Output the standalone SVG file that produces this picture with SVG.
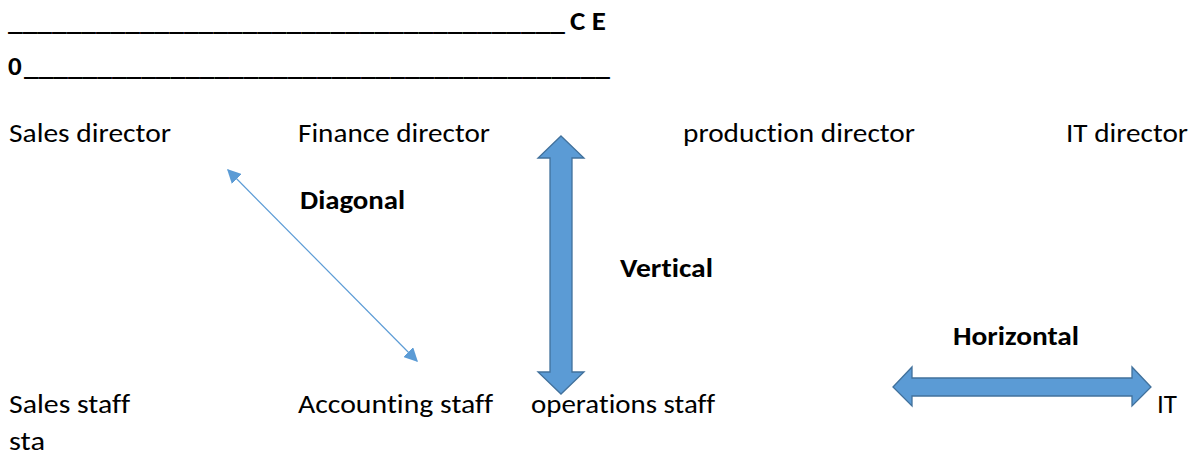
<svg xmlns="http://www.w3.org/2000/svg" width="1198" height="457" viewBox="0 0 1198 457">
  <style>
    .t { font-family: Carlito, Lato, "Open Sans", sans-serif; font-size: 27px; fill: #000; font-variant-ligatures: none; }
    .b { font-weight: bold; }
    .block { fill: #5B9BD5; stroke: #41719C; stroke-width: 1.3; stroke-linejoin: miter; }
    .thin { stroke: #5B9BD5; stroke-width: 1.2; fill: none; }
  </style>
  <defs>
    <marker id="tri" viewBox="0 0 10 10" refX="9" refY="5" markerWidth="14" markerHeight="14" markerUnits="userSpaceOnUse" orient="auto-start-reverse">
      <path d="M0,0 L10,5 L0,10 Z" fill="#5B9BD5"/>
    </marker>
  </defs>

  <rect width="1198" height="457" fill="#fff"/>

  <!-- heading lines -->
  <g id="header">
    <text class="t b" x="8" y="30" textLength="557" lengthAdjust="spacingAndGlyphs">______________________________________</text>
    <text class="t b" x="570" y="30" textLength="36" lengthAdjust="spacingAndGlyphs">C E</text>
    <text class="t b" x="8" y="75">0</text>
    <text class="t b" x="24" y="75" textLength="586" lengthAdjust="spacingAndGlyphs">________________________________________</text>
  </g>

  <!-- directors -->
  <g id="sales-director"><text class="t" x="9" y="142" textLength="162" lengthAdjust="spacingAndGlyphs">Sales director</text></g>
  <g id="finance-director"><text class="t" x="298" y="142" textLength="192" lengthAdjust="spacingAndGlyphs">Finance director</text></g>
  <g id="production-director"><text class="t" x="683" y="142" textLength="232" lengthAdjust="spacingAndGlyphs">production director</text></g>
  <g id="it-director"><text class="t" x="1066" y="142" textLength="122" lengthAdjust="spacingAndGlyphs">IT director</text></g>

  <!-- staff -->
  <g id="sales-staff">
    <text class="t" x="9" y="413" textLength="121" lengthAdjust="spacingAndGlyphs">Sales staff</text>
    <text class="t" x="9" y="450" textLength="36" lengthAdjust="spacingAndGlyphs">sta</text>
  </g>
  <g id="accounting-staff"><text class="t" x="298" y="413" textLength="195" lengthAdjust="spacingAndGlyphs">Accounting staff</text></g>
  <g id="operations-staff"><text class="t" x="531" y="413" textLength="184" lengthAdjust="spacingAndGlyphs">operations staff</text></g>
  <g id="it-staff"><text class="t" x="1157" y="413">IT</text></g>

  <!-- labels -->
  <g id="label-diagonal"><text class="t b" x="300" y="209" textLength="105" lengthAdjust="spacingAndGlyphs">Diagonal</text></g>
  <g id="label-vertical"><text class="t b" x="620" y="277" textLength="93" lengthAdjust="spacingAndGlyphs">Vertical</text></g>
  <g id="label-horizontal"><text class="t b" x="953" y="345" textLength="126" lengthAdjust="spacingAndGlyphs">Horizontal</text></g>

  <!-- connectors -->
  <g id="connectors">
    <line class="thin" x1="228" y1="170" x2="417" y2="361" marker-start="url(#tri)" marker-end="url(#tri)"/>
    <path class="block" d="M561,136 L584,158 L572,158 L572,372 L584,372 L561,394 L538,372 L550,372 L550,158 L538,158 Z"/>
    <path class="block" d="M893,387 L912,367 L912,378 L1132,378 L1132,367 L1151,387 L1132,406 L1132,396 L912,396 L912,406 Z"/>
  </g>
</svg>
